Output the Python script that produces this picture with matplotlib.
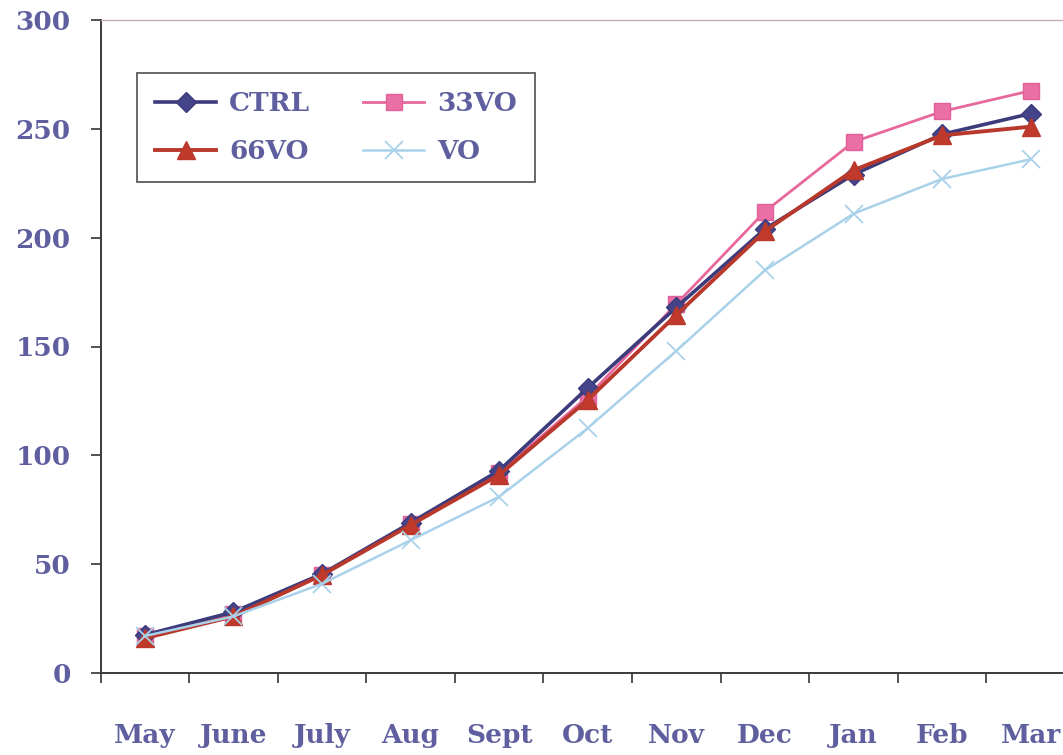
import matplotlib
matplotlib.use("Agg")
import matplotlib.pyplot as plt
import numpy as np

months = ["May", "June", "July", "Aug", "Sept", "Oct", "Nov", "Dec", "Jan", "Feb", "Mar"]
ctrl = [17.5, 28, 45.5, 69, 93, 131, 168, 204, 229, 247.5, 257]
vo33 = [17, 27, 45, 68.5, 92, 127, 169.5, 212, 244, 258, 267.5]
vo66 = [16, 26, 45, 68, 91, 125.5, 164.5, 203, 231, 247, 251]
vo = [17, 26, 41, 61, 81, 112.5, 148, 185, 211, 227, 236]
yticks = [0, 50, 100, 150, 200, 250, 300]

txt = "#5f5fa0"
plt.rcParams['font.family'] = ['DejaVu Serif']
plt.rcParams['font.weight'] = 'bold'

fig = plt.figure(figsize=(10.63, 7.55), dpi=100)
ax = fig.add_axes([100.5/1063, 82/755, 974.5/1063, 653/755])

x = np.arange(len(months))
l1, = ax.plot(x, ctrl, color="#3c3b7c", lw=2.6, marker="D", ms=10, mfc="#45448a", mec="#3c3b7c", label="CTRL", zorder=3)
l2, = ax.plot(x, vo33, color="#e8689c", lw=2.0, marker="s", ms=11, mfc="#ea6fa4", mec="#e0609a", label="33VO", zorder=2)
l3, = ax.plot(x, vo66, color="#b8392c", lw=2.8, marker="^", ms=13, mfc="#c0392b", mec="#b8392c", label="66VO", zorder=4)
l4, = ax.plot(x, vo, color="#a9d2ea", lw=1.8, marker="x", ms=13, mew=1.3, mec="#a9d2ea", label="VO", zorder=5)

ax.set_xlim(-0.5, 10.5)
ax.set_ylim(0, 300)
ax.set_yticks(yticks)
ax.set_yticklabels([str(v) for v in yticks])
ax.set_xticks(x)
ax.set_xticklabels(months)
ax.set_xticks(np.arange(-0.5, 11, 1.0), minor=True)

ax.tick_params(axis='x', which='major', length=0, pad=36, labelsize=19, labelcolor=txt)
ax.tick_params(axis='x', which='minor', length=7.5, width=1.2, color="#333333", direction='out')
ax.tick_params(axis='y', which='major', length=7.5, width=1.2, color="#333333", direction='out', pad=14, labelsize=19, labelcolor=txt)

for s in ['left', 'bottom']:
    ax.spines[s].set_color("#3a3a3a")
    ax.spines[s].set_linewidth(1.4)
ax.spines['top'].set_color("#c9a9b6")
ax.spines['top'].set_linewidth(1.0)
ax.spines['right'].set_visible(False)

leg = ax.legend([l1, l3, l2, l4], ["CTRL", "66VO", "33VO", "VO"], ncol=2, loc='upper left',
                bbox_to_anchor=(137/1063, 682/755),
                bbox_transform=fig.transFigure, fontsize=19, frameon=True, fancybox=False,
                handlelength=2.3, handletextpad=0.5, columnspacing=2.0, labelspacing=0.85,
                borderpad=0.7, borderaxespad=0)
leg.get_frame().set_edgecolor("#333333")
leg.get_frame().set_linewidth(1.3)
for t in leg.get_texts():
    t.set_color(txt)

fig.savefig("out.png", dpi=100)
